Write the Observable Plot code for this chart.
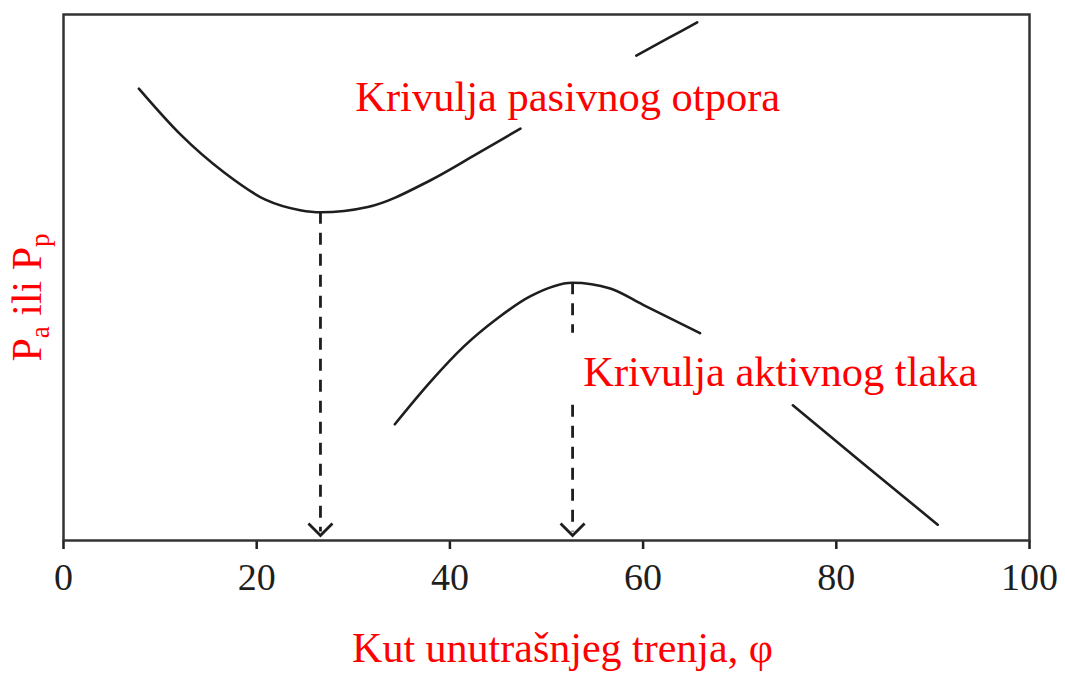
<!DOCTYPE html>
<html>
<head>
<meta charset="utf-8">
<script src="https://cdn.jsdelivr.net/npm/d3@7"></script>
<script src="https://cdn.jsdelivr.net/npm/@observablehq/plot@0.6"></script>
<style>
  html, body { margin: 0; padding: 0; background: #fff; }
</style>
</head>
<body>
<div id="chart"></div>
<script>
// Passive resistance curve (null marks where the label hides the curve)
const passiveX = [7.8, 12.1, 16.6, 20.9, 24.5, 26.6, 31.5, 37.9, 42.7, 47.3, null, 59.3, 62.5, 65.6];
const passiveY = [85.9, 77.2, 70.0, 64.8, 62.8, 62.4, 63.4, 68.4, 73.4, 78.3, null, 92.2, 95.4, 98.5];
// Active pressure curve
const activeX = [34.3, 38.0, 41.4, 44.9, 48.3, 52.7, 56.6, 60.0, 65.9, null, 75.5, 82.8, 90.5];
const activeY = [22.1, 30.2, 36.8, 42.2, 46.4, 49.0, 47.9, 44.8, 39.4, null, 25.7, 14.6, 3.0];
// Dashed drop lines (extremes down to the axis)
const guideX = [26.6, 52.7, 52.7];
const guideTop = [62.4, 49.0, 25.7];
const guideBottom = [1.6, 39.4, 1.6];
const arrowX = [26.6, 52.7];
const arrowY = [0.95, 0.95];
// Labels
const labelText = ["Krivulja pasivnog otpora", "Krivulja aktivnog tlaka"];
const labelX = [30.2, 53.8];
const labelY = [84.2, 31.9];
const xTicks = [0, 20, 40, 60, 80, 100];
const xLabel = "Kut unutrašnjeg trenja, φ";

const passive = passiveX.map((x, i) => ({x, y: passiveY[i]}));
const active = activeX.map((x, i) => ({x, y: activeY[i]}));
const guides = guideX.map((x, i) => ({x, y1: guideTop[i], y2: guideBottom[i]}));
const arrows = arrowX.map((x, i) => ({x, y: arrowY[i]}));
const labels = labelText.map((t, i) => ({t, x: labelX[i], y: labelY[i]}));

const chevron = {
  draw(ctx, size) {
    const r = Math.sqrt(size / Math.PI);
    ctx.moveTo(-r, -r);
    ctx.lineTo(0, 0);
    ctx.lineTo(r, -r);
  }
};

const ink = "#1e1e1e";
const svg = Plot.plot({
  width: 1065,
  height: 673,
  marginLeft: 63,
  marginRight: 36,
  marginTop: 14,
  marginBottom: 133,
  style: {fontFamily: "'Liberation Serif', 'Times New Roman', serif", background: "#fff", color: ink},
  x: {domain: [0, 100]},
  y: {domain: [0, 100]},
  marks: [
    Plot.axisX({ticks: xTicks, tickSize: 9, tickPadding: 14, strokeWidth: 2.5, fontSize: 38,
      label: xLabel, labelAnchor: "center", labelArrow: "none", labelOffset: 121}),
    Plot.axisY({ticks: [], label: "Pa ili Pp", labelAnchor: "center", labelArrow: "none", labelOffset: 52, fontSize: 40}),
    Plot.ruleX(guides, {x: "x", y1: "y1", y2: "y2", stroke: ink, strokeWidth: 2.8, strokeDasharray: "12,9"}),
    Plot.dot(arrows, {x: "x", y: "y", r: 12, symbol: chevron, stroke: ink, strokeWidth: 2.8, fill: "none"}),
    Plot.line(passive, {x: "x", y: "y", curve: "monotone-x", stroke: ink, strokeWidth: 2.6}),
    Plot.line(active, {x: "x", y: "y", curve: "monotone-x", stroke: ink, strokeWidth: 2.6}),
    Plot.text(labels, {x: "x", y: "y", text: "t", textAnchor: "start", fill: "#ff0000", fontSize: 42.5}),
    Plot.frame({stroke: "#333", strokeWidth: 2.5})
  ]
});

// Style axis labels (red, x label nudged, y label with subscripts)
const xl = svg.querySelector('g[aria-label="x-axis label"] text');
if (xl) { xl.setAttribute("fill", "#ff0000"); xl.style.fontSize = "42px"; xl.setAttribute("dx", "16"); }
const yl = svg.querySelector('g[aria-label="y-axis label"] text');
if (yl) {
  yl.setAttribute("fill", "#ff0000");
  yl.style.fontSize = "42px";
  yl.setAttribute("dx", "-20");
  yl.textContent = "";
  const ns = "http://www.w3.org/2000/svg";
  const parts = [["P", null], ["a", "sub"], [" ili P", "back"], ["p", "sub"]];
  for (const [t, kind] of parts) {
    const ts = document.createElementNS(ns, "tspan");
    ts.textContent = t;
    if (kind === "sub") { ts.setAttribute("dy", "8"); ts.style.fontSize = "27px"; }
    if (kind === "back") { ts.setAttribute("dy", "-8"); }
    yl.appendChild(ts);
  }
}
document.getElementById("chart").appendChild(svg);
</script>
</body>
</html>
